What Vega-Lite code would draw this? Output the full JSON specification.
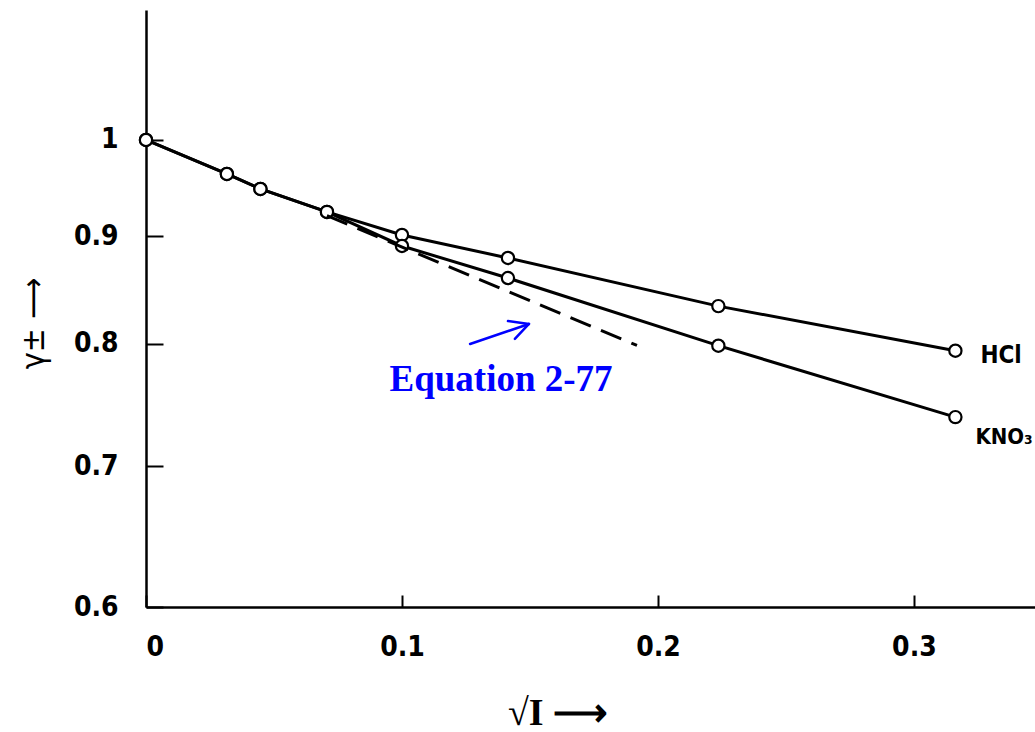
{
  "$schema": "https://vega.github.io/schema/vega-lite/v6.json",
  "width": 889,
  "height": 597,
  "autosize": {"type": "none"},
  "padding": {"left": 146, "top": 10, "right": 0, "bottom": 125},
  "background": "white",
  "config": {"view": {"stroke": null}},
  "encoding": {
    "x": {
      "field": "x", "type": "quantitative",
      "scale": {"domain": [0, 0.3473], "nice": false, "zero": false},
      "axis": {
        "values": [0, 0.1, 0.2, 0.3],
        "labelExpr": "datum.value == 0 ? '0' : format(datum.value, '.1f')",
        "grid": false,
        "tickSize": -12, "labelPadding": 38,
        "domainColor": "black", "domainWidth": 2.5,
        "tickColor": "black", "tickWidth": 2,
        "labelFont": "DejaVu Sans Condensed",
        "labelFontSize": 28, "labelFontWeight": "bold", "labelColor": "black",
        "labelBaseline": "top",
        "title": "√I  ⟶",
        "titleFont": "Liberation Serif",
        "titleFontSize": 38, "titleFontWeight": "bold", "titleColor": "black",
        "titleX": 411, "titleY": 117, "titleAlign": "center", "titleBaseline": "alphabetic", "titleAnchor": null
      }
    },
    "y": {
      "field": "y", "type": "quantitative",
      "scale": {"type": "log", "domain": [0.6, 1.1527], "nice": false, "zero": false},
      "axis": {
        "values": [0.6, 0.7, 0.8, 0.9, 1],
        "labelExpr": "datum.value == 1 ? '1' : format(datum.value, '.1f')",
        "grid": false,
        "tickSize": -17, "labelPadding": 45,
        "domainColor": "black", "domainWidth": 2.5,
        "tickColor": "black", "tickWidth": 2,
        "labelFont": "DejaVu Sans Condensed",
        "labelFontSize": 28, "labelFontWeight": "bold", "labelColor": "black",
        "title": "γ±  ⟶",
        "titleFont": "DejaVu Sans Condensed",
        "titleFontSize": 32, "titleFontWeight": "normal", "titleColor": "black",
        "titleX": -113, "titleY": 313, "titleAngle": -90,
        "titleAlign": "center", "titleBaseline": "middle", "titleAnchor": null
      }
    }
  },
  "layer": [
    {
      "data": {"values": [
        {"series": "HCl", "x": 0, "y": 1.0},
        {"series": "HCl", "x": 0.0316, "y": 0.9635},
        {"series": "HCl", "x": 0.0447, "y": 0.9478},
        {"series": "HCl", "x": 0.0707, "y": 0.9243},
        {"series": "HCl", "x": 0.1, "y": 0.9013},
        {"series": "HCl", "x": 0.1414, "y": 0.8789},
        {"series": "HCl", "x": 0.2236, "y": 0.8338},
        {"series": "HCl", "x": 0.3162, "y": 0.7941},
        {"series": "KNO3", "x": 0, "y": 1.0},
        {"series": "KNO3", "x": 0.0316, "y": 0.9635},
        {"series": "KNO3", "x": 0.0447, "y": 0.9478},
        {"series": "KNO3", "x": 0.0707, "y": 0.9243},
        {"series": "KNO3", "x": 0.1, "y": 0.8905},
        {"series": "KNO3", "x": 0.1414, "y": 0.8598},
        {"series": "KNO3", "x": 0.2236, "y": 0.7985},
        {"series": "KNO3", "x": 0.3162, "y": 0.7385}
      ]},
      "layer": [
        {
          "mark": {"type": "line", "color": "black", "strokeWidth": 3},
          "encoding": {"detail": {"field": "series"}}
        },
        {
          "mark": {"type": "point", "shape": "circle", "filled": true, "fill": "white", "stroke": "black", "strokeWidth": 2.2, "size": 150, "opacity": 1}
        }
      ]
    },
    {
      "data": {"values": [
        {"x": 0.0707, "y": 0.9205},
        {"x": 0.1918, "y": 0.7987}
      ]},
      "mark": {"type": "line", "color": "black", "strokeWidth": 3, "strokeDash": [22, 11]}
    },
    {
      "data": {"values": [
        {"x": 0.1266, "y": 0.8000, "x2": 0.1496, "y2": 0.8177},
        {"x": 0.1414, "y": 0.8203, "x2": 0.1496, "y2": 0.8177},
        {"x": 0.1441, "y": 0.8045, "x2": 0.1496, "y2": 0.8177}
      ]},
      "mark": {"type": "rule", "color": "#0000ff", "strokeWidth": 2.5, "strokeCap": "round"},
      "encoding": {"x2": {"field": "x2"}, "y2": {"field": "y2"}}
    },
    {
      "data": {"values": [
        {"x": 0.1387, "y": 0.7600, "text": "Equation 2-77"}
      ]},
      "mark": {"type": "text", "font": "Liberation Serif", "fontSize": 37, "fontWeight": "bold", "color": "#0000ff", "align": "center", "baseline": "alphabetic"},
      "encoding": {"text": {"field": "text"}}
    },
    {
      "data": {"values": [
        {"x": 0.3162, "y": 0.7941, "label": "HCl"},
        {"x": 0.3162, "y": 0.7385, "label": "KNO₃"}
      ]},
      "layer": [
        {
          "transform": [{"filter": "datum.label == 'HCl'"}],
          "mark": {"type": "text", "font": "DejaVu Sans Condensed", "fontSize": 24, "fontWeight": "bold", "color": "black", "align": "left", "baseline": "middle", "dx": 25, "dy": 5},
          "encoding": {"text": {"field": "label"}}
        },
        {
          "transform": [{"filter": "datum.label != 'HCl'"}],
          "mark": {"type": "text", "font": "DejaVu Sans Condensed", "fontSize": 22, "fontWeight": "bold", "color": "black", "align": "left", "baseline": "middle", "dx": 20, "dy": 20},
          "encoding": {"text": {"field": "label"}}
        }
      ]
    }
  ]
}
